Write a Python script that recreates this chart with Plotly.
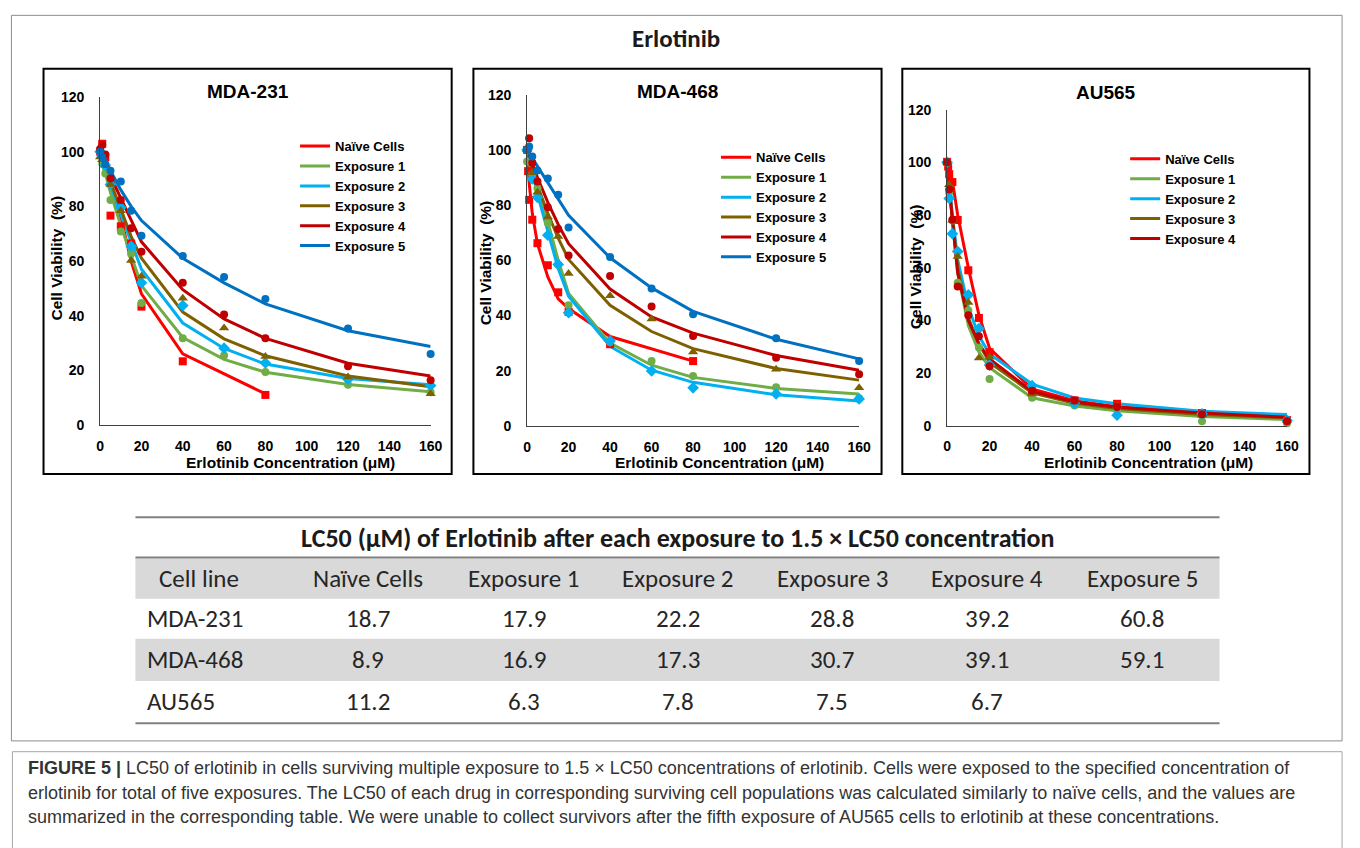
import plotly.graph_objects as go

W, H = 1360, 848

# ---------------- data ----------------
series_names = ["Naïve Cells", "Exposure 1", "Exposure 2", "Exposure 3", "Exposure 4", "Exposure 5"]
series_colors = ["#FF0000", "#70AD47", "#00B0F0", "#7F6000", "#C00000", "#0070C0"]
series_symbols = ["square", "circle", "diamond", "triangle-up", "circle", "circle"]

# MDA-231
conc_231 = [0, 1, 2.5, 5, 10, 15, 20, 40, 60, 80, 120, 160]
mda231_naive_obs = [100, 102.9, 98, 76.6, 72.7, 66.4, 43.3, 23.3, None, 11.0, None, None]
mda231_naive_fit = [100, 98, 95, 89, 76, 60, 48, 26, None, 11.4, None, None]
mda231_exp1_obs = [100, 95.7, 92, 82.3, 70.8, 62.6, 44.6, 31.7, 25.4, 19.4, 14.7, 12.0]
mda231_exp1_fit = [97, 95, 92, 85, 73, 62, 51, 32, 24, 19.3, 14.8, 12.2]
mda231_exp2_obs = [100, 98, 95, 88, 79.6, 65.4, 52, 43.7, 28.1, 22.7, 16.7, 14.4]
mda231_exp2_fit = [99, 98, 95, 88, 77, 67, 57, 37.3, 28, 22.3, 17, 14.7]
mda231_exp3_obs = [98, 97, 95, 88, 78.4, 60.2, 54.4, 46.4, 35.5, 25.1, 17.6, 11.4]
mda231_exp3_fit = [99, 98, 95, 89, 79, 69, 61, 41.3, 31.5, 25.3, 17.9, 14]
mda231_exp4_obs = [101, 102.5, 99, 90.3, 82.3, 72, 63.4, 52, 40.4, 31.7, 21.5, 16.4]
mda231_exp4_fit = [100, 99, 96, 91, 83, 75, 67, 49.5, 38.8, 31.7, 22.6, 17.9]
mda231_exp5_obs = [100, 98, 95.5, 93, 89.1, 78.4, 69.2, 61.8, 54.1, 46.1, 35.3, 26]
mda231_exp5_fit = [100, 99, 97, 93, 86, 80, 74.8, 61, 52, 44.3, 34.5, 28.7]

# MDA-468
conc_468 = [0, 0.5, 1, 2.5, 5, 10, 15, 20, 40, 60, 80, 120, 160]
mda468_naive_obs = [100, 92.3, 81.9, 74.7, 66.2, 58.2, 48.4, 41.3, 29.6, None, 23.5, None, None]
mda468_naive_fit = [98, 93, 88, 77, 66, 54, 46, 42.5, 32.4, None, 23.5, None, None]
mda468_exp1_obs = [95.8, None, None, 91.1, 86.1, 73.6, 58.5, 43.7, 30.4, 23.5, 18.1, 14, 10]
mda468_exp1_fit = [97, 96, 95, 92, 86, 74, 60, 48, 30, 22, 17.6, 13.6, 11.6]
mda468_exp2_obs = [100, None, None, 89.5, 82.8, 69.1, 58.5, 41, 30.8, 19.9, 13.8, 11.6, 9.8]
mda468_exp2_fit = [99, 98, 96, 92, 84, 70, 57, 47, 28.8, 20.2, 15.8, 11.3, 9]
mda468_exp3_obs = [100, None, None, 91.7, 84.6, 75.7, 68.6, 55.2, 47.2, 38.7, 26.8, 20.5, 13.8]
mda468_exp3_fit = [99, 98, 97, 93, 87, 77, 68, 60.3, 43.7, 34.2, 28, 20.8, 16.6]
mda468_exp4_obs = [100, None, 104.2, 95.3, 88.5, 79.2, 71.3, 61.7, 54.3, 43.3, 32.6, 24.7, 18.7]
mda468_exp4_fit = [100, 99, 98, 95, 90, 81, 73, 66, 49.6, 39.5, 33.6, 25.5, 20.2]
mda468_exp5_obs = [100, None, 101.2, 97.6, 92.5, 89.6, 83.7, 71.9, 61.2, 49.8, 40.5, 31.8, 23.5]
mda468_exp5_fit = [100, 99.5, 99, 97, 94, 88, 82, 76.3, 60.9, 50, 41.5, 31.4, 24.3]

# AU565
conc_565 = [0, 0.5, 1, 2.5, 5, 10, 15, 20, 40, 60, 80, 120, 160]
au565_naive_obs = [100.2, 98.4, 95.5, 92.5, 78.1, 59, 40.9, 27.9, 13, 9.6, 8.3, 4.8, 2.1]
au565_naive_fit = [100, 99, 97.5, 93, 80, 60, 42, 29.4, 13.9, 9.5, 7.2, 5, 3.5]
au565_exp1_obs = [100, None, 88.4, 77.9, 54.3, 43.7, 29.7, 17.7, 10.6, 7.7, 6, 1.7, 0.9]
au565_exp1_fit = [100, 95, 90, 78, 58, 38, 28, 22, 10.6, 7.5, 5.7, 3.5, 2.3]
au565_exp2_obs = [100, None, 86.3, 72.9, 66.1, 49.7, 36.9, 23, 15.2, 8.5, 4, 4.5, 2]
au565_exp2_fit = [100, 96, 92, 80, 63, 45, 34, 27.2, 15.8, 10.5, 8.3, 5.5, 4.2]
au565_exp3_obs = [100, None, 91.5, 78, 64.2, 46.8, 25.7, 26, 12, 9, 7.5, 4, 2]
au565_exp3_fit = [100, 95, 90, 79, 60, 41, 31, 24, 12.5, 8.5, 6.5, 4.2, 3]
au565_exp4_obs = [100, None, 89.7, 78.2, 52.8, 41.9, 34, 22.6, 13.3, 9.6, 7.1, 4.3, 1.7]
au565_exp4_fit = [100, 95, 90, 78, 58, 40, 31, 25.3, 13, 9, 7, 4.8, 3.2]

y_ticks = [0, 20, 40, 60, 80, 100, 120]
x_ticks = [0, 20, 40, 60, 80, 100, 120, 140, 160]

# table
table_title = "LC50 (μM) of Erlotinib after each exposure to 1.5 × LC50 concentration"
table_header = ["Cell line", "Naïve Cells", "Exposure 1", "Exposure 2", "Exposure 3", "Exposure 4", "Exposure 5"]
table_cell_lines = ["MDA-231", "MDA-468", "AU565"]
lc50_mda231 = ["18.7", "17.9", "22.2", "28.8", "39.2", "60.8"]
lc50_mda468 = ["8.9", "16.9", "17.3", "30.7", "39.1", "59.1"]
lc50_au565 = ["11.2", "6.3", "7.8", "7.5", "6.7", ""]

caption_lines = [
    "<b>FIGURE 5 |</b> LC50 of erlotinib in cells surviving multiple exposure to 1.5 × LC50 concentrations of erlotinib. Cells were exposed to the specified concentration of",
    "erlotinib for total of five exposures. The LC50 of each drug in corresponding surviving cell populations was calculated similarly to naïve cells, and the values are",
    "summarized in the corresponding table. We were unable to collect survivors after the fifth exposure of AU565 cells to erlotinib at these concentrations.",
]

# ---------------- helpers (pixel -> paper) ----------------
def px(x):
    return x / W

def py(y):
    return 1 - y / H

ARIAL = "Liberation Sans, Arial, sans-serif"
CALIBRI = "Carlito, Calibri, Lato, sans-serif"

fig = go.Figure()

panels = [
    dict(title="MDA-231", conc=conc_231,
         obs=[mda231_naive_obs, mda231_exp1_obs, mda231_exp2_obs, mda231_exp3_obs, mda231_exp4_obs, mda231_exp5_obs],
         fit=[mda231_naive_fit, mda231_exp1_fit, mda231_exp2_fit, mda231_exp3_fit, mda231_exp4_fit, mda231_exp5_fit],
         xpx=(97.3, 431.7), ypx=(425, 90.7), box=(40, 62, 453, 475),
         title_xy=(247, 85), ytitle_xy=(53, 255), xtitle_xy=(290, 463), legend_xy=(294.5, 125.5)),
    dict(title="MDA-468", conc=conc_468,
         obs=[mda468_naive_obs, mda468_exp1_obs, mda468_exp2_obs, mda468_exp3_obs, mda468_exp4_obs, mda468_exp5_obs],
         fit=[mda468_naive_fit, mda468_exp1_fit, mda468_exp2_fit, mda468_exp3_fit, mda468_exp4_fit, mda468_exp5_fit],
         xpx=(529.3, 865.3), ypx=(426, 88.3), box=(475, 62, 888, 475),
         title_xy=(682, 85), ytitle_xy=(487, 260), xtitle_xy=(724, 463), legend_xy=(720.5, 137)),
    dict(title="AU565", conc=conc_565,
         obs=[au565_naive_obs, au565_exp1_obs, au565_exp2_obs, au565_exp3_obs, au565_exp4_obs],
         fit=[au565_naive_fit, au565_exp1_fit, au565_exp2_fit, au565_exp3_fit, au565_exp4_fit],
         xpx=(954.3, 1298.3), ypx=(425.7, 103.6), box=(909, 62, 1321, 475),
         title_xy=(1115, 86), ytitle_xy=(922, 264), xtitle_xy=(1158, 463), legend_xy=(1134.5, 138.5)),
]

shapes = []
annotations = []

# outer frame around the figure
shapes.append(dict(type="rect", xref="paper", yref="paper", x0=px(7.5), x1=px(1354), y0=py(747), y1=py(7.5),
                   line=dict(color="#8C8C8C", width=1), layer="below"))

for i, p in enumerate(panels):
    k = "" if i == 0 else str(i + 1)
    xa, ya = "x" + k, "y" + k
    leg = "legend" + k
    n = len(p["obs"])
    for j in range(n):
        fig.add_trace(go.Scatter(
            x=p["conc"], y=p["fit"][j], mode="lines", name=series_names[j],
            line=dict(color=series_colors[j], width=3), connectgaps=True,
            xaxis=xa, yaxis=ya, legend=leg, showlegend=True, hoverinfo="skip"))
    for j in range(n):
        fig.add_trace(go.Scatter(
            x=p["conc"], y=p["obs"][j], mode="markers", name=series_names[j],
            marker=dict(color=series_colors[j], symbol=series_symbols[j],
                        size=9 if series_symbols[j] in ("diamond", "triangle-up") else 8,
                        line=dict(width=0)),
            xaxis=xa, yaxis=ya, showlegend=False, cliponaxis=False))

    x0p, x1p = p["xpx"]
    y0p, y1p = p["ypx"]
    axis_common = dict(showgrid=False, zeroline=False, showline=True, linecolor="#404040", linewidth=1,
                       ticks="", tickfont=dict(family=ARIAL, size=14, color="#000000", weight="bold"),
                       fixedrange=True)
    fig.update_layout(**{
        ("xaxis" + k): dict(domain=[px(x0p), px(x1p)], range=[0, 160], tickvals=x_ticks,
                            anchor=ya, ticklabelstandoff=8, **axis_common),
        ("yaxis" + k): dict(domain=[py(y0p), py(y1p)], range=[0, 120], tickvals=y_ticks,
                            anchor=xa, ticklabelstandoff=12, **axis_common),
        leg: dict(x=px(p["legend_xy"][0]), y=py(p["legend_xy"][1]), xanchor="left", yanchor="top",
                  xref="paper", yref="paper", bgcolor="rgba(0,0,0,0)", borderwidth=0,
                  font=dict(family=ARIAL, size=13, color="#000000", weight="bold"),
                  tracegroupgap=0, itemwidth=30),
    })
    bx0, by0, bx1, by1 = p["box"]
    shapes.append(dict(type="rect", xref="paper", yref="paper", x0=px(bx0), x1=px(bx1), y0=py(by1), y1=py(by0),
                       line=dict(color="#000000", width=2)))
    annotations.append(dict(text="<b>%s</b>" % p["title"], x=px(p["title_xy"][0]), y=py(p["title_xy"][1]),
                            xref="paper", yref="paper", showarrow=False, xanchor="center", yanchor="middle",
                            font=dict(family=ARIAL, size=19, color="#000000")))
    annotations.append(dict(text="<b>Cell Viability  (%)</b>", x=px(p["ytitle_xy"][0]), y=py(p["ytitle_xy"][1]),
                            xref="paper", yref="paper", showarrow=False, textangle=-90,
                            xanchor="center", yanchor="middle",
                            font=dict(family=ARIAL, size=15.5, color="#000000")))
    annotations.append(dict(text="<b>Erlotinib Concentration (μM)</b>", x=px(p["xtitle_xy"][0]), y=py(p["xtitle_xy"][1]),
                            xref="paper", yref="paper", showarrow=False, xanchor="center", yanchor="middle",
                            font=dict(family=ARIAL, size=15.5, color="#000000")))

# figure title
annotations.append(dict(text="<b>Erlotinib</b>", x=px(680), y=py(31), xref="paper", yref="paper",
                        showarrow=False, xanchor="center", yanchor="middle",
                        font=dict(family=CALIBRI, size=25, color="#1a1a1a")))

# ---------------- table ----------------
tx0, tx1 = 133, 1230
shapes.append(dict(type="rect", xref="paper", yref="paper", x0=px(tx0), x1=px(tx1), y0=py(602), y1=py(561),
                   fillcolor="#D9D9D9", line=dict(width=0), layer="below"))
shapes.append(dict(type="rect", xref="paper", yref="paper", x0=px(tx0), x1=px(tx1), y0=py(686), y1=py(643),
                   fillcolor="#D9D9D9", line=dict(width=0), layer="below"))
for yl in (519, 560, 729):
    shapes.append(dict(type="line", xref="paper", yref="paper", x0=px(tx0), x1=px(tx1), y0=py(yl), y1=py(yl),
                       line=dict(color="#808080", width=2)))

annotations.append(dict(text="<b>%s</b>" % table_title, x=px(682), y=py(540), xref="paper", yref="paper",
                        showarrow=False, xanchor="center", yanchor="middle",
                        font=dict(family=CALIBRI, size=26, color="#1a1a1a")))
col_x = [197, 368, 526, 682, 838, 995, 1152]
row_y = [622, 664, 707]
for c, htxt in enumerate(table_header):
    annotations.append(dict(text=htxt, x=px(col_x[c]), y=py(581), xref="paper", yref="paper",
                            showarrow=False, xanchor="center", yanchor="middle",
                            font=dict(family=CALIBRI, size=25, color="#262626")))
for r, (name, vals) in enumerate(zip(table_cell_lines, [lc50_mda231, lc50_mda468, lc50_au565])):
    annotations.append(dict(text=name, x=px(143), y=py(row_y[r]), xref="paper", yref="paper",
                            showarrow=False, xanchor="left", yanchor="middle",
                            font=dict(family=CALIBRI, size=25, color="#262626")))
    for c, v in enumerate(vals):
        if v:
            annotations.append(dict(text=v, x=px(col_x[c + 1]), y=py(row_y[r]), xref="paper", yref="paper",
                                    showarrow=False, xanchor="center", yanchor="middle",
                                    font=dict(family=CALIBRI, size=25, color="#262626")))

# ---------------- caption ----------------
shapes.append(dict(type="rect", xref="paper", yref="paper", x0=px(8.5), x1=px(1354), y0=py(870), y1=py(758),
                   line=dict(color="#A6A6A6", width=1)))
for li, line in enumerate(caption_lines):
    annotations.append(dict(text=line, x=px(22), y=py(775 + 25 * li), xref="paper", yref="paper",
                            showarrow=False, xanchor="left", yanchor="middle",
                            font=dict(family=ARIAL, size=18, color="#333333")))

fig.update_layout(width=W, height=H, margin=dict(l=0, r=0, t=0, b=0), paper_bgcolor="white",
                  plot_bgcolor="rgba(0,0,0,0)", shapes=shapes, annotations=annotations, showlegend=True)

fig.write_html("out.html")
